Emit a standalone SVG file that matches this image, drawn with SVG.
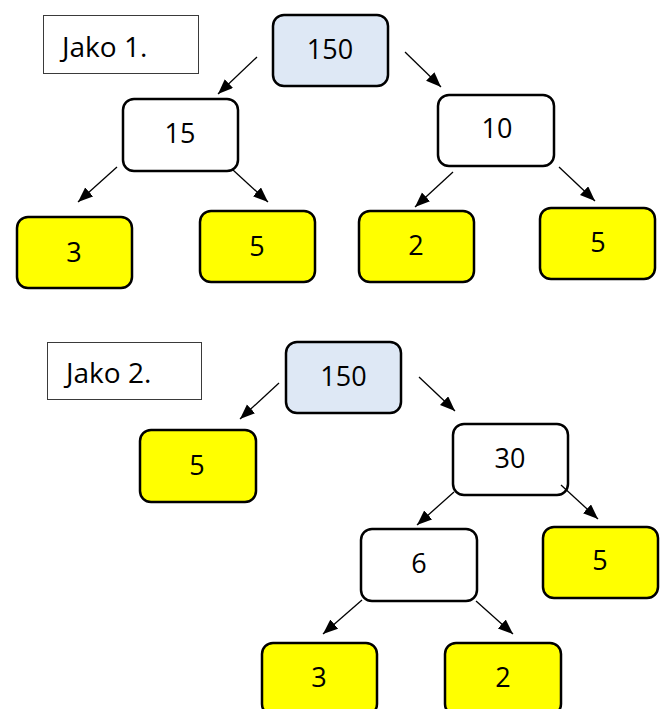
<svg xmlns="http://www.w3.org/2000/svg" width="664" height="709" viewBox="0 0 664 709">
<style>
.node rect{stroke:#000;stroke-width:2.5}
.w{fill:#fff}
.b{fill:#dee8f5}
.y{fill:#ffff00}
.lbl rect{fill:#fff;stroke:#3a3a3a;stroke-width:1}
text{font-family:"Open Sans","Liberation Sans",sans-serif;font-size:27px;fill:#000}
.lbl text{font-size:28px}
.c{text-anchor:middle}
#connectors line{stroke:#000;stroke-width:1.3;marker-end:url(#ah)}
</style>
<defs>
<marker id="ah" markerUnits="userSpaceOnUse" markerWidth="16" markerHeight="13" refX="15" refY="6" orient="auto">
<path d="M0,0 L15,6 L0,12 z" fill="#000"/>
</marker>
</defs>
<rect width="664" height="709" fill="#fff"/>
<g id="label1" class="lbl"><rect x="43.5" y="15.5" width="155" height="58"/><text x="62" y="57">Jako 1.</text></g>
<g id="root1" class="node"><rect class="b" x="273" y="15" width="115" height="71" rx="11"/><text class="c" x="330" y="59">150</text></g>
<g id="n15" class="node"><rect class="w" x="123" y="99" width="115" height="72" rx="11"/><text class="c" x="180" y="143">15</text></g>
<g id="n3a" class="node"><rect class="y" x="17" y="217" width="115" height="71" rx="11"/><text class="c" x="74" y="262">3</text></g>
<g id="n5a" class="node"><rect class="y" x="200" y="211" width="115" height="71" rx="11"/><text class="c" x="257" y="256">5</text></g>
<g id="n10" class="node"><rect class="w" x="438" y="95" width="116" height="71" rx="11"/><text class="c" x="497" y="138">10</text></g>
<g id="n2a" class="node"><rect class="y" x="359" y="211" width="115" height="71" rx="11"/><text class="c" x="416" y="255">2</text></g>
<g id="n5b" class="node"><rect class="y" x="540" y="208" width="115" height="71" rx="11"/><text class="c" x="598" y="252">5</text></g>
<g id="label2" class="lbl"><rect x="47.5" y="342.5" width="154" height="57"/><text x="66" y="383">Jako 2.</text></g>
<g id="root2" class="node"><rect class="b" x="286" y="342" width="115" height="71" rx="11"/><text class="c" x="343.5" y="386">150</text></g>
<g id="n5c" class="node"><rect class="y" x="140" y="430" width="116" height="72" rx="11"/><text class="c" x="197" y="475">5</text></g>
<g id="n30" class="node"><rect class="w" x="453" y="424" width="115" height="71" rx="11"/><text class="c" x="510" y="468">30</text></g>
<g id="n6" class="node"><rect class="w" x="361" y="529" width="116" height="72" rx="11"/><text class="c" x="419" y="573">6</text></g>
<g id="n5d" class="node"><rect class="y" x="543" y="527" width="115" height="71" rx="11"/><text class="c" x="600" y="570">5</text></g>
<g id="n3b" class="node"><rect class="y" x="262" y="643" width="115" height="72" rx="11"/><text class="c" x="319" y="687">3</text></g>
<g id="n2b" class="node"><rect class="y" x="445" y="643" width="116" height="72" rx="11"/><text class="c" x="503" y="687">2</text></g>
<g id="connectors">
<line x1="257" y1="57" x2="218" y2="94"/>
<line x1="405" y1="52" x2="441" y2="87"/>
<line x1="117" y1="167" x2="78" y2="202"/>
<line x1="233" y1="170" x2="268" y2="202"/>
<line x1="453" y1="172" x2="415" y2="207"/>
<line x1="559" y1="167" x2="595" y2="201"/>
<line x1="279" y1="383" x2="240" y2="419"/>
<line x1="419" y1="377" x2="455" y2="411"/>
<line x1="454" y1="492" x2="417" y2="525"/>
<line x1="561" y1="485" x2="598" y2="519"/>
<line x1="362" y1="600" x2="323" y2="634"/>
<line x1="476" y1="601" x2="513" y2="634"/>
</g>
</svg>
